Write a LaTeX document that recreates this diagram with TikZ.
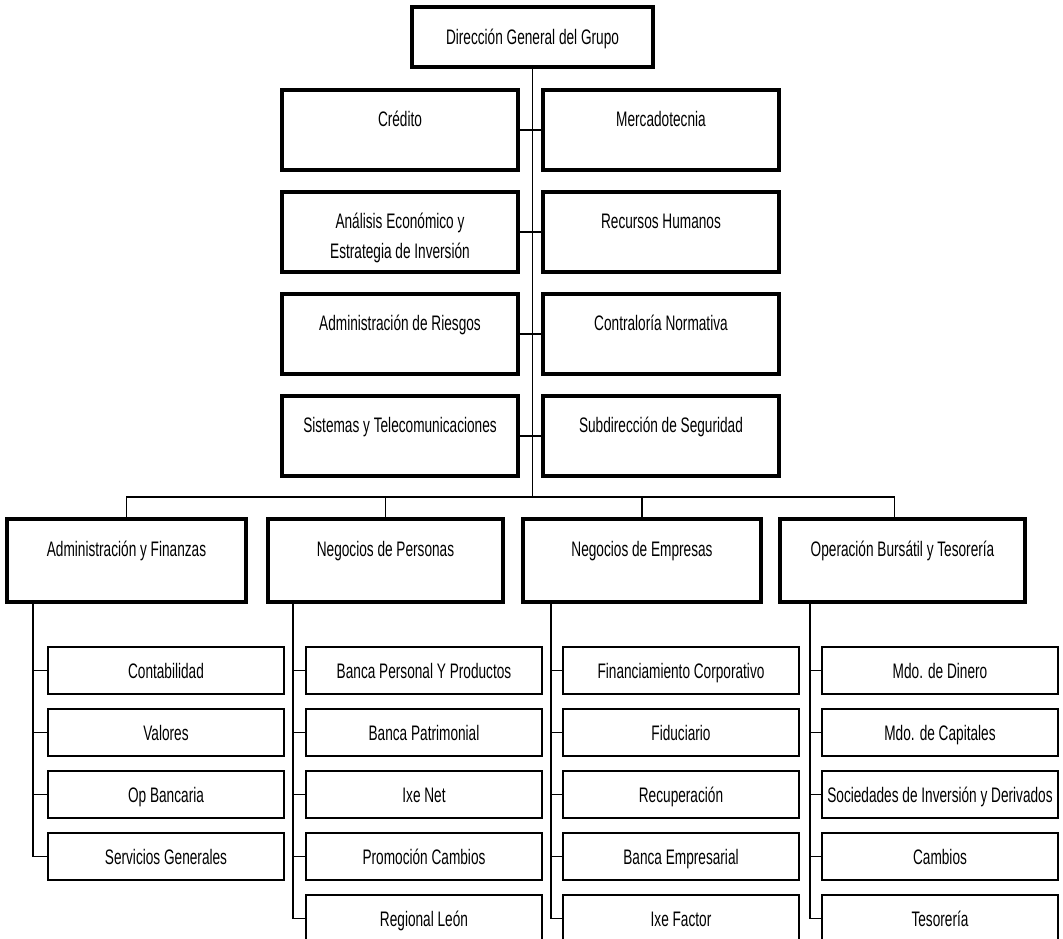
\documentclass[tikz,border=0pt]{standalone}
\usepackage{fontspec}
\setmainfont[FakeStretch=0.65]{Liberation Sans}
% two centred lines stacked on the first baseline
\newcommand\twoline[2]{\vtop{\hbox to 0pt{\hss#1\hss}\hbox to 0pt{\hss#2\hss}}}
\begin{document}
\begin{tikzpicture}[x=1pt,y=-1pt,
  font=\fontsize{21}{30}\selectfont,
  box/.style={draw, rectangle, inner sep=0pt, anchor=north, minimum width=236pt},
  topbox/.style={box, line width=4pt, minimum width=241pt, text height=37pt, text depth=23pt},
  midbox/.style={box, line width=3.5pt, text height=37pt, text depth=43pt},
  divbox/.style={box, line width=4pt, text height=37pt, text depth=46pt},
  subbox/.style={box, line width=2pt, text height=31pt, text depth=16pt},
  conn/.style={line width=1.5pt}]
\useasboundingbox (0,0) rectangle (1063,938);

% head office
\node[topbox] (dg) at (532.5,5) {Dirección General del Grupo};

% staff areas, two columns
\node[midbox] (cred)  at (400,88)  {Crédito};
\node[midbox] (merc)  at (661,88)  {Mercadotecnia};
\node[midbox] (anal)  at (400,190) {\twoline{Análisis Económico y}{Estrategia de Inversión}};
\node[midbox] (rh)    at (661,190) {Recursos Humanos};
\node[midbox] (ries)  at (400,292) {Administración de Riesgos};
\node[midbox] (contr) at (661,292) {Contraloría Normativa};
\node[midbox] (sist)  at (400,394) {Sistemas y Telecomunicaciones};
\node[midbox] (segu)  at (661,394) {Subdirección de Seguridad};

% divisions
\node[divbox, minimum width=239pt] (adm) at (126.5,517) {Administración y Finanzas};
\node[divbox, minimum width=235pt] (per) at (385.5,517) {Negocios de Personas};
\node[divbox, minimum width=238pt] (emp) at (642,517)   {Negocios de Empresas};
\node[divbox, minimum width=245pt] (bur) at (902.5,517) {Operación Bursátil y Tesorería};

% departments under each division
\foreach \t [count=\i] in {Contabilidad, Valores, Op Bancaria, Servicios Generales}
  \node[subbox] (a\i) at (166,584+62*\i) {\t};
\foreach \t [count=\i] in {Banca Personal Y Productos, Banca Patrimonial, Ixe Net, Promoción Cambios, Regional León}
  \node[subbox] (p\i) at (424,584+62*\i) {\t};
\foreach \t [count=\i] in {Financiamiento Corporativo, Fiduciario, Recuperación, Banca Empresarial, Ixe Factor}
  \node[subbox] (e\i) at (681,584+62*\i) {\t};
\foreach \t [count=\i] in {Mdo. de Dinero, Mdo. de Capitales, Sociedades de Inversión y Derivados, Cambios, Tesorería}
  \node[subbox] (b\i) at (940,584+62*\i) {\t};

% trunk and distribution bar
\coordinate (bar) at (dg.south |- 0,497);
\draw[conn] (dg.south) -- (bar);
\draw[conn] (cred.east) -- (merc.west);
\draw[conn] (anal.east) -- (rh.west);
\draw[conn] (ries.east) -- (contr.west);
\draw[conn] (sist.east) -- (segu.west);
\draw[conn] (adm.north) |- (bar) -| ([xshift=-8pt]bur.north);
\draw[conn] (per.north) -- (per.north |- bar);
\draw[conn] (emp.north) -- (emp.north |- bar);

% department spines
\coordinate (sa) at ([xshift=28pt]adm.south west);
\coordinate (sp) at ([xshift=27pt]per.south west);
\coordinate (se) at ([xshift=30pt]emp.south west);
\coordinate (sb) at ([xshift=32pt]bur.south west);
\draw[conn] (sa) |- (a4.west);
\foreach \i in {1,2,3} \draw[conn] (a\i.west) -- (a\i.west -| sa);
\draw[conn] (sp) |- (p5.west);
\draw[conn] (se) |- (e5.west);
\draw[conn] (sb) |- (b5.west);
\foreach \i in {1,...,4} {
  \draw[conn] (p\i.west) -- (p\i.west -| sp);
  \draw[conn] (e\i.west) -- (e\i.west -| se);
  \draw[conn] (b\i.west) -- (b\i.west -| sb);
}
\end{tikzpicture}
\end{document}
